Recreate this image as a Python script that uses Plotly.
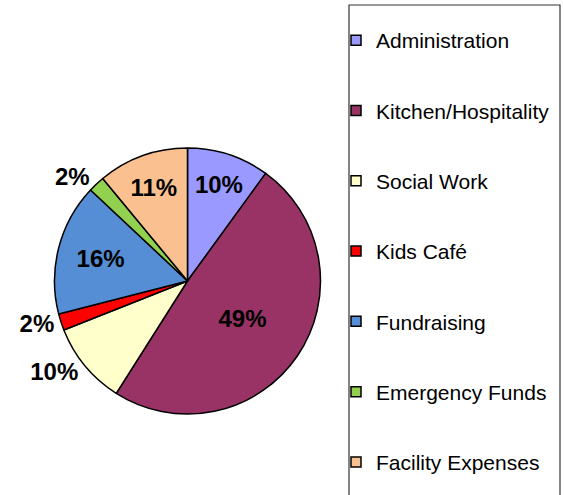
import plotly.graph_objects as go

categories = ["Administration", "Kitchen/Hospitality", "Social Work", "Kids Café",
              "Fundraising", "Emergency Funds", "Facility Expenses"]
values = [10, 49, 10, 2, 16, 2, 11]
colors = ["#9999FF", "#993366", "#FFFFCC", "#FF0000", "#558ED5", "#92D050", "#FAC090"]
text_positions = ["inside", "inside", "outside", "outside", "inside", "outside", "inside"]

W, H = 564, 495
fig = go.Figure()

fig.add_trace(go.Pie(
    labels=categories, values=values, sort=False, direction="clockwise", rotation=0,
    marker=dict(colors=colors, line=dict(color="black", width=1.5)),
    textinfo="percent", textposition=text_positions,
    insidetextorientation="horizontal",
    textfont=dict(family="Liberation Sans, Arial, sans-serif", size=24, color="black", weight="bold"),
    showlegend=False, hoverinfo="label+percent",
    domain=dict(x=[54 / W, 321 / W], y=[(H - 414) / H, (H - 148) / H]),
))

for i, (cat, col) in enumerate(zip(categories, colors)):
    fig.add_trace(go.Scatter(
        x=[None], y=[None], mode="markers", name=cat, legendgroup=f"g{i}",
        marker=dict(symbol="square", size=10, color=col, line=dict(color="black", width=1.5)),
    ))

fig.add_shape(type="rect", xref="paper", yref="paper",
              x0=349 / W, x1=560 / W, y0=-0.05, y1=1 - 5 / H,
              line=dict(color="#333333", width=1.2), fillcolor="rgba(0,0,0,0)")

fig.update_layout(
    width=W, height=H,
    margin=dict(l=0, r=0, t=0, b=0),
    paper_bgcolor="white", plot_bgcolor="white",
    xaxis=dict(visible=False), yaxis=dict(visible=False),
    legend=dict(x=336 / W, xanchor="left", y=1 - 20 / H, yanchor="top",
                font=dict(family="Liberation Sans, Arial, sans-serif", size=21, color="black"),
                tracegroupgap=40, bgcolor="rgba(0,0,0,0)", itemclick=False),
    font=dict(family="Liberation Sans, Arial, sans-serif"),
)

fig.write_html("out.html", config={"displayModeBar": False},
               post_script="document.body.style.margin='0';")
